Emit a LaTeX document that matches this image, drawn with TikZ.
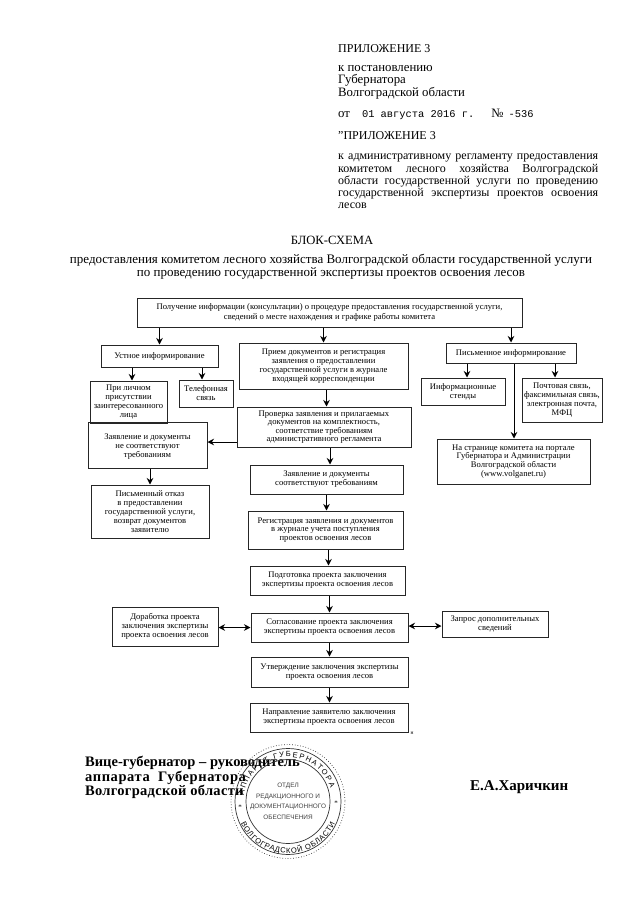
\documentclass[tikz,border=0pt]{standalone}
\usepackage{fontspec}
\setmainfont{Liberation Serif}
\newfontfamily\datefont{Liberation Mono}
\newfontfamily\stampfont{Liberation Sans}
\usetikzlibrary{arrows.meta,decorations.text}
\tikzset{
  x=1pt,y=-1pt,
  >={Stealth[length=6.5pt,width=6.5pt]},
  bx/.style={draw=black!85,line width=1pt,inner sep=1pt,align=center,
    font=\fontsize{8.6}{8.9}\selectfont},
  flow/.style={->,line width=1pt},
  both/.style={<->,line width=1pt},
  head/.style={anchor=west,inner sep=0pt,align=left,
    font=\fontsize{12.8}{12.4}\selectfont},
  title/.style={inner sep=0pt,align=center,font=\fontsize{13}{13}\selectfont},
  sign/.style={anchor=west,inner sep=0pt,align=left,font=\fontsize{14.5}{13.2}\selectfont\bfseries},
  stamp/.style={draw=black!80,line width=0.7pt},
  stamptext/.style={decorate,decoration={text along path,text align=fit to path,text={|\stampfont\fontsize{7.5}{7.5}\selectfont|#1}}},
}
\begin{document}
\begin{tikzpicture}
  \useasboundingbox (0,0) rectangle (640,905);
  % header
  \node[head,font=\fontsize{12}{12}\selectfont] (app) at (338,49) {ПРИЛОЖЕНИЕ 3};
  \node[head] (dec) at (338,82) {к постановлению\\Губернатора\\Волгоградской области};
  \node[head] (dat) at (338,114.5) {от\hspace{12pt}{\datefont\fontsize{10.4}{12}\selectfont 01 августа 2016 г.}\hspace{17pt}№\hspace{5pt}{\datefont\fontsize{10.4}{12}\selectfont -536}};
  \node[head,font=\fontsize{12}{12}\selectfont] (app2) at (338,136) {"ПРИЛОЖЕНИЕ 3};
  \node[head,font=\fontsize{12}{12.2}\selectfont,text width=260,align=justify] (reg) at (338,181.5)
    {к административному регламенту предоставления комитетом лесного хозяйства Волгоградской области государственной услуги по проведению государственной экспертизы проектов освоения лесов};
  \node[title,font=\fontsize{12.6}{13}\selectfont] (blk) at (332,240) {БЛОК-СХЕМА};
  \node[title] (tit) at (331,266.5) {предоставления комитетом лесного хозяйства Волгоградской области государственной услуги\\по проведению государственной экспертизы проектов освоения лесов};
  % boxes
  \node[bx,minimum width=385,minimum height=29] (top) at (329.5,312.5) {Получение информации (консультации) о процедуре предоставления государственной услуги,\\[0.4pt]сведений о месте нахождения и графике работы комитета};
  \node[bx,minimum width=117,minimum height=22] (ust) at (159.5,356) {Устное информирование};
  \node[bx,minimum width=77,minimum height=42] (lich) at (128.5,402) {При личном\\присутствии\\заинтересованного\\лица};
  \node[bx,minimum width=54,minimum height=27] (tel) at (206,393.5) {Телефонная\\связь};
  \node[bx,minimum width=169,minimum height=46] (prm) at (323.5,366) {Прием документов и регистрация\\заявления о предоставлении\\государственной услуги в журнале\\входящей корреспонденции};
  \node[bx,minimum width=174,minimum height=40,font=\fontsize{8.6}{7.6}\selectfont] (chk) at (324,427) {Проверка заявления и прилагаемых\\документов на комплектность,\\соответствие требованиям\\административного регламента};
  \node[bx,minimum width=119,minimum height=46,font=\fontsize{8.6}{9.2}\selectfont] (neg) at (147.5,445) {\mbox{}\\Заявление и документы\\не соответствуют\\требованиям};
  \node[bx,minimum width=118,minimum height=53] (otk) at (150,511.5) {Письменный отказ\\в предоставлении\\государственной услуги,\\возврат документов\\заявителю};
  \node[bx,minimum width=153,minimum height=29] (pos) at (326.5,479.5) {Заявление и документы\\соответствуют требованиям};
  \node[bx,minimum width=155,minimum height=38] (rgs) at (325.5,530) {Регистрация заявления и документов\\в журнале учета поступления\\проектов освоения лесов};
  \node[bx,minimum width=155,minimum height=29] (pod) at (327.5,580.5) {Подготовка проекта заключения\\экспертизы проекта освоения лесов};
  \node[bx,minimum width=157,minimum height=29] (sog) at (329.5,627.5) {Согласование проекта заключения\\экспертизы проекта освоения лесов};
  \node[bx,minimum width=157,minimum height=30] (utv) at (329.5,672) {Утверждение заключения экспертизы\\проекта освоения лесов};
  \node[bx,minimum width=158,minimum height=29] (nap) at (329,717.5) {Направление заявителю заключения\\экспертизы проекта освоения лесов};
  \node[bx,minimum width=106,minimum height=39] (dor) at (165,626.5) {Доработка проекта\\заключения экспертизы\\проекта освоения лесов};
  \node[bx,minimum width=106,minimum height=26] (zap) at (495,624) {Запрос дополнительных\\сведений};
  \node[bx,minimum width=130,minimum height=20] (pis) at (511,353) {Письменное информирование};
  \node[bx,minimum width=84,minimum height=27] (inf) at (463,391.5) {Информационные\\стенды};
  \node[bx,minimum width=80,minimum height=44] (poc) at (562,400) {Почтовая связь,\\факсимильная связь,\\электронная почта,\\МФЦ};
  \node[bx,minimum width=153,minimum height=45] (str) at (513.5,461.5) {На странице комитета на портале\\Губернатора и Администрации\\Волгоградской области\\(www.volganet.ru)};
  \node[inner sep=0pt,font=\fontsize{5.5}{5.5}\selectfont] (mrk) at (412,733) {н};
  % connectors
  \draw[flow] (top.south -| ust.north) -- (ust.north);
  \draw[flow] (top.south -| prm.north) -- (prm.north);
  \draw[flow] (top.south -| pis.north) -- (pis.north);
  \draw[flow] ([xshift=3.5]lich.north |- ust.south) -- ([xshift=3.5]lich.north);
  \draw[flow] ([xshift=-4]tel.north |- ust.south) -- ([xshift=-4]tel.north);
  \draw[flow] ([xshift=3]prm.south) -- ([xshift=3]prm.south |- chk.north);
  \draw[flow] ([yshift=-15]chk.west) -- ([yshift=-15]chk.west -| neg.east);
  \draw[flow] ([xshift=3.5]pos.north |- chk.south) -- ([xshift=3.5]pos.north);
  \draw[flow] (neg.south -| otk.north) -- (otk.north);
  \draw[flow] (pos.south) -- (pos.south |- rgs.north);
  \draw[flow] ([xshift=3]rgs.south) -- ([xshift=3]rgs.south |- pod.north);
  \draw[flow] (sog.north |- pod.south) -- (sog.north);
  \draw[flow] (sog.south) -- (utv.north);
  \draw[flow] (utv.south) -- (nap.north -| utv.south);
  \draw[both] (dor.east |- sog.west) -- (sog.west);
  \draw[both] ([yshift=1.5]sog.east) -- ([yshift=1.5]sog.east -| zap.west);
  \draw[flow] ([xshift=-44]pis.south) -- ([xshift=-44]pis.south |- inf.north);
  \draw[flow] ([xshift=44]pis.south) -- ([xshift=44]pis.south |- poc.north);
  \draw[flow] ([xshift=3]pis.south) -- ([xshift=3]pis.south |- str.north);
  % signature
  \node[sign] (sgn) at (85,777.5) {Вице-губернатор – руководитель\\{\addfontfeature{LetterSpace=4}аппарата\ \ Губернатора}\\{\addfontfeature{LetterSpace=2}Волгоградской области}};
  \node[sign,font=\fontsize{15}{15}\selectfont\bfseries] (fio) at (470,787) {Е.А.Харичкин};
  % stamp
  \coordinate (stc) at (288,801.5);
  \draw[stamp] (stc) circle (42);
  \draw[stamp] (stc) circle (53);
  \draw[stamp,dotted] (stc) circle (57);
  \path[stamptext={АППАРАТ ГУБЕРНАТОРА}] (stc) ++(188:44.5) arc[start angle=188,end angle=342,radius=44.5];
  \path[stamptext={ВОЛГОГРАДСКОЙ ОБЛАСТИ}] (stc) ++(155:52) arc[start angle=155,end angle=25,radius=52];
  \node[inner sep=0pt,font=\fontsize{7}{7}\selectfont] (stl) at (240,807) {*};
  \node[inner sep=0pt,font=\fontsize{7}{7}\selectfont] (str2) at (336,803) {*};
  \node[inner sep=0pt,align=center,font=\stampfont\fontsize{6.4}{10.5}\selectfont,text=black!75] (otd) at (stc) {ОТДЕЛ\\РЕДАКЦИОННОГО И\\ДОКУМЕНТАЦИОННОГО\\ОБЕСПЕЧЕНИЯ};
\end{tikzpicture}
\end{document}
